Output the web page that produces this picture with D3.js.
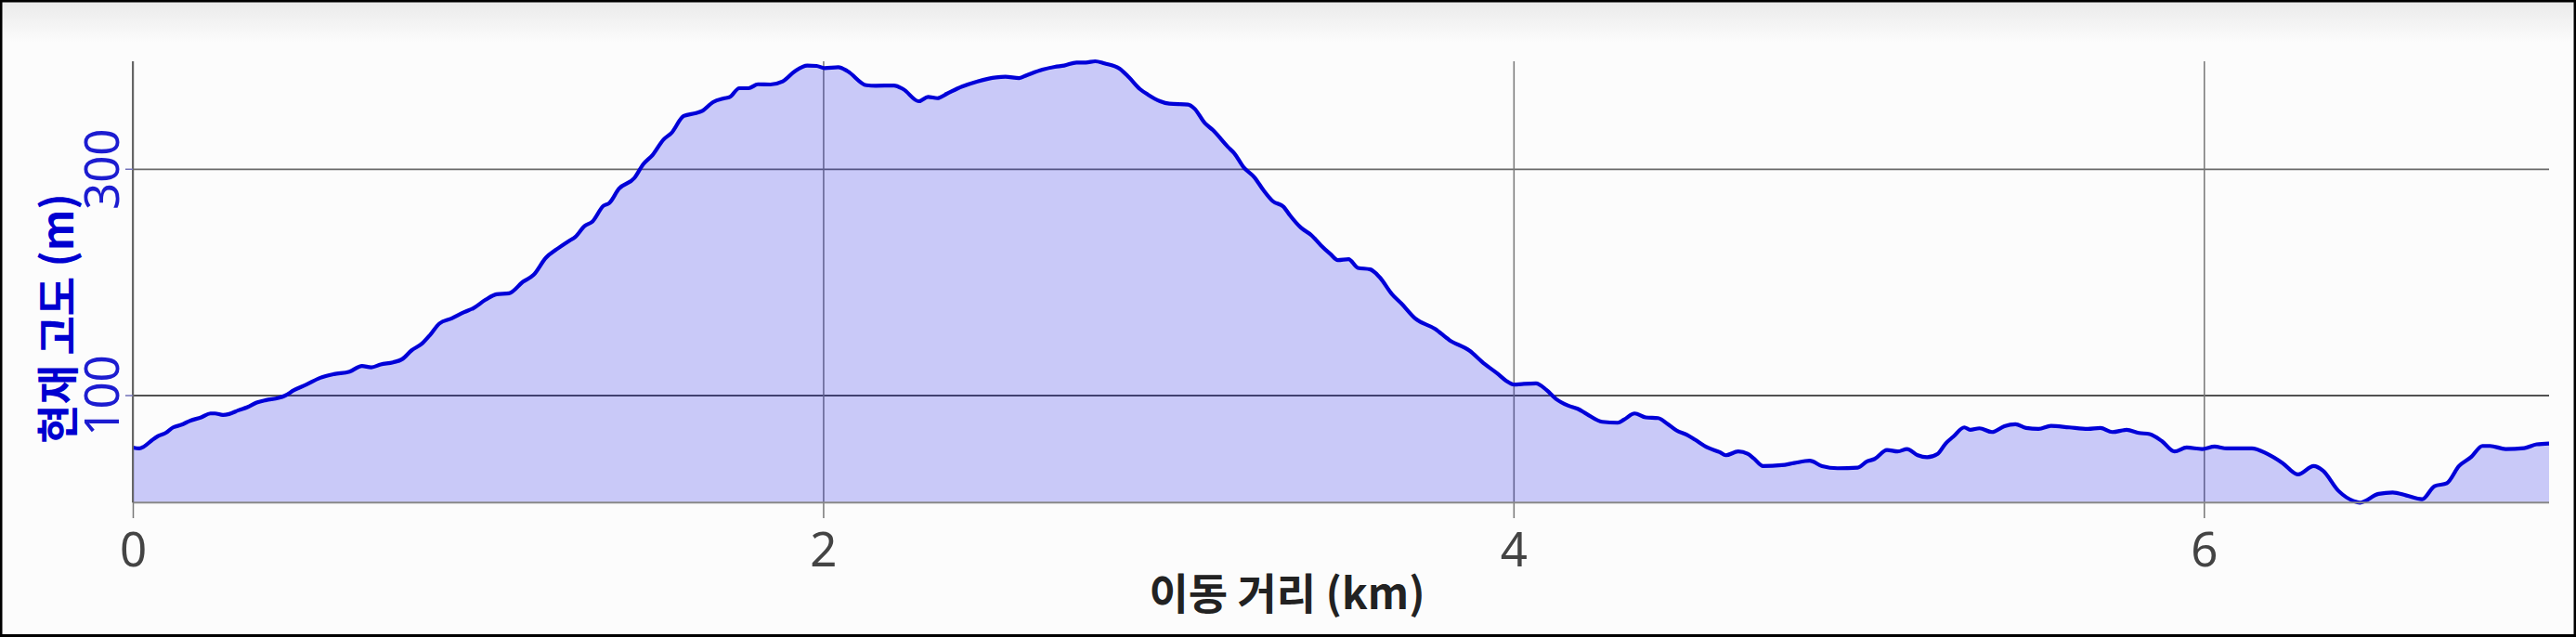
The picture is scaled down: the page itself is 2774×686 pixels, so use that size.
<!DOCTYPE html>
<html><head><meta charset="utf-8">
<script src="https://cdn.jsdelivr.net/npm/d3@7"></script>
<style>html,body{margin:0;padding:0;background:#fcfcfc;}svg{display:block;}</style>
</head><body>
<svg id="chart" width="2774" height="686"></svg>
<script>
const distanceKm = [
0, 0.019, 0.032, 0.055, 0.073, 0.095, 0.117, 0.140, 0.167, 0.198, 0.225, 0.238, 0.261, 0.279, 0.306, 0.332, 0.359, 0.386, 0.422, 0.440, 0.467, 0.503, 0.543, 0.583, 0.628, 0.664, 0.691, 0.718, 0.754, 0.780, 0.807, 0.839, 0.861, 0.888, 0.924, 0.960, 0.987, 1.022, 1.054, 1.090, 1.130, 1.161, 1.197, 1.228, 1.264, 1.282, 1.309, 1.332, 1.363,
1.381, 1.408, 1.453, 1.479, 1.506, 1.538, 1.560, 1.596, 1.632, 1.650, 1.681, 1.712, 1.730, 1.757, 1.784, 1.811, 1.847, 1.883, 1.918, 1.954, 1.981, 2.004, 2.044, 2.071, 2.125, 2.152, 2.205, 2.232, 2.277, 2.304, 2.331, 2.358, 2.402, 2.447, 2.501, 2.528, 2.568, 2.590, 2.635, 2.671, 2.698, 2.734, 2.761,
2.788, 2.815, 2.859, 2.886, 2.918, 2.940, 2.976, 3.003, 3.057, 3.075, 3.106, 3.129, 3.173, 3.191, 3.218, 3.249, 3.276, 3.303, 3.334, 3.352, 3.384, 3.415, 3.442, 3.469, 3.491, 3.522, 3.549, 3.585, 3.612, 3.648, 3.675, 3.715, 3.773, 3.814, 3.872, 3.916, 3.952, 3.979, 4.002, 4.024, 4.065, 4.096, 4.123, 4.159,
4.186, 4.212, 4.257, 4.302, 4.320, 4.351, 4.383, 4.419, 4.445, 4.472, 4.504, 4.526, 4.562, 4.597, 4.615, 4.651, 4.678, 4.696, 4.723, 4.777, 4.813, 4.858, 4.894, 4.939, 4.997, 5.024, 5.046, 5.082, 5.113, 5.140, 5.171, 5.198, 5.229, 5.252, 5.274, 5.306, 5.323, 5.350, 5.386, 5.422, 5.454, 5.485, 5.521, 5.557, 5.610,
5.664, 5.700, 5.735, 5.776, 5.812, 5.843, 5.879, 5.915, 5.950, 5.995, 6.031, 6.067, 6.139, 6.183, 6.228, 6.273, 6.318, 6.345, 6.390, 6.434, 6.452, 6.506, 6.547, 6.587, 6.632, 6.668, 6.704, 6.739, 6.775, 6.807, 6.829, 6.874, 6.928, 6.964, 7.000
];
const elevationM = [
53.7, 52.9, 54.5, 60.0, 63.8, 66.6, 71.5, 73.7, 77.5, 80.3, 83.8, 83.8, 82.5, 83.3, 86.6, 89.3, 93.4, 95.6, 97.5, 99.4, 104.4, 109.3, 115.3, 118.6, 120.8, 125.7, 124.6, 127.1, 129.0, 131.7, 139.4, 145.9, 153.1, 163.2, 167.8, 173.3, 176.9, 184.3, 189.2, 190.0, 200.1, 206.2, 221.5, 228.9, 236.3, 239.8, 249.4, 253.5, 267.2,
269.9, 282.2, 291.8, 304.1, 312.3, 326.0, 331.5, 346.6, 349.3, 351.2, 358.9, 362.2, 363.5, 371.2, 371.2, 374.7, 374.5, 377.2, 386.2, 391.2, 390.9, 389.0, 389.8, 386.2, 373.9, 373.4, 373.6, 370.4, 359.7, 363.5, 362.4, 366.3, 372.6, 377.2, 380.8, 381.3, 380.2, 382.7, 387.6, 390.1, 391.2, 393.9, 393.9,
395.0, 393.1, 388.4, 380.8, 370.4, 365.7, 359.7, 357.5, 356.7, 353.4, 340.3, 334.2, 319.2, 313.7, 301.4, 292.6, 280.9, 271.3, 266.4, 259.0, 248.0, 241.2, 232.4, 224.8, 219.3, 220.1, 212.5, 211.1, 204.2, 189.2, 181.0, 167.8, 158.5, 148.7, 139.4, 127.6, 119.4, 112.6, 109.3, 109.8, 110.4, 104.4, 96.7, 90.7,
87.9, 83.3, 76.4, 75.6, 78.4, 83.8, 80.3, 79.7, 74.8, 68.8, 64.7, 60.6, 53.7, 49.6, 46.9, 50.2, 48.2, 44.1, 37.3, 38.1, 40.0, 42.0, 37.3, 35.4, 35.9, 41.4, 43.6, 51.5, 50.2, 52.4, 46.9, 45.2, 48.2, 57.3, 63.3, 71.5, 69.3, 70.7, 67.4, 72.6, 74.2, 71.0, 70.2, 72.9, 71.5,
70.2, 71.0, 67.4, 69.3, 66.6, 65.5, 59.2, 50.2, 53.7, 52.4, 54.5, 52.9, 52.9, 48.2, 40.0, 29.9, 37.3, 33.2, 15.4, 6.4, 5.0, 12.7, 14.0, 11.3, 8.0, 19.5, 22.2, 37.3, 45.5, 55.1, 55.1, 52.4, 53.2, 56.5, 57.3
];
const xTickValues = [0, 2, 4, 6];
const yTickValues = [100, 300];
const xAxisTitle = "이동 거리 (km)";
const yAxisTitle = "현재 고도 (m)";

const W = 2774, H = 686;
const L = 143, R = 2745, T = 66, B = 541.3;

const svg = d3.select("#chart");
const defs = svg.append("defs");
const grad = defs.append("linearGradient").attr("id","topg").attr("x1",0).attr("y1",0).attr("x2",0).attr("y2",1);
grad.append("stop").attr("offset","0%").attr("stop-color","#e9e9e9");
grad.append("stop").attr("offset","100%").attr("stop-color","#fcfcfc");
svg.append("rect").attr("width",W).attr("height",H).attr("fill","#fcfcfc");
svg.append("rect").attr("width",W).attr("height",46).attr("fill","url(#topg)");

const data = distanceKm.map((d,i)=>({x:d, y:elevationM[i]}));
const x = d3.scaleLinear().domain([0, 7]).range([L, R]);
const y = d3.scaleLinear().domain(d3.extent(elevationM)).range([B, T]);

// horizontal gridlines
const yGrid = svg.append("g").attr("transform",`translate(${L},0)`)
  .call(d3.axisLeft(y).tickValues(yTickValues).tickSize(-(R-L)).tickFormat(""));
yGrid.select(".domain").remove();
yGrid.selectAll(".tick line").attr("stroke",d=>d===300?"#6a6a6a":"#1a1a1a").attr("stroke-width",d=>d===300?1.8:1.3);

// vertical gridlines + ticks
const xAx = svg.append("g").attr("transform",`translate(0,558)`)
  .call(d3.axisBottom(x).tickValues(xTickValues).tickSize(-(558-T)).tickPadding(16).tickFormat(d3.format("d")));
xAx.select(".domain").remove();
xAx.selectAll(".tick line").attr("stroke","#777").attr("stroke-width",1.5);
xAx.selectAll(".tick text").attr("fill","#444").attr("font-size",51)
  .attr("font-family","'Noto Sans', 'Open Sans', sans-serif");

// area + line
const area = d3.area().x(d=>x(d.x)).y0(B).y1(d=>y(d.y)).curve(d3.curveMonotoneX);
const line = d3.line().x(d=>x(d.x)).y(d=>y(d.y)).curve(d3.curveMonotoneX);
svg.append("path").datum(data).attr("d",area).attr("fill","rgb(0,0,235)").attr("fill-opacity",0.2);
svg.append("path").datum(data).attr("d",line).attr("fill","none").attr("stroke","#0000d8").attr("stroke-width",4.2).attr("stroke-linejoin","round");

// baseline and left axis
svg.append("line").attr("x1",L).attr("x2",R).attr("y1",B).attr("y2",B).attr("stroke","#888").attr("stroke-width",2);
svg.append("line").attr("x1",L).attr("x2",L).attr("y1",T).attr("y2",B).attr("stroke","#666").attr("stroke-width",2);

// y axis labels
const yAx = svg.append("g").attr("transform",`translate(${L},0)`)
  .call(d3.axisLeft(y).tickValues(yTickValues).tickSize(8).tickFormat(d3.format("d")));
yAx.select(".domain").remove();
yAx.selectAll(".tick line").attr("stroke","#7070b8").attr("stroke-width",1.5);
yAx.selectAll(".tick text").attr("x",null).attr("dy",null).attr("text-anchor","middle")
  .attr("transform","translate(-15,0) rotate(-90)")
  .attr("fill","#1c1cd0").attr("font-size",51)
  .attr("font-family","'Noto Sans', 'Open Sans', sans-serif");

// titles
svg.append("text").attr("x",1386).attr("y",656).attr("text-anchor","middle")
  .attr("font-family","'Noto Sans CJK KR', sans-serif").attr("font-weight",700)
  .attr("font-size",46).attr("fill","#222").text(xAxisTitle);
svg.append("text").attr("transform","translate(79,343) rotate(-90)").attr("text-anchor","middle")
  .attr("font-family","'Noto Sans CJK KR', sans-serif").attr("font-weight",700)
  .attr("font-size",46).attr("fill","#0000d0").text(yAxisTitle);

// border
svg.append("rect").attr("x",1).attr("y",1).attr("width",W-2).attr("height",H-2.5)
  .attr("fill","none").attr("stroke","#000").attr("stroke-width",3);
</script>
</body></html>
